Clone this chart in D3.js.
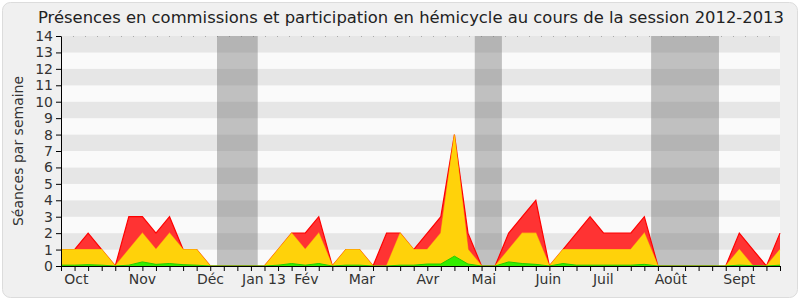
<!DOCTYPE html>
<html><head><meta charset="utf-8">
<script src="https://cdn.jsdelivr.net/npm/d3@7"></script>
<style>body{margin:0;background:#fff}svg{display:block;font-family:"DejaVu Sans",sans-serif}</style>
</head><body><svg id="c" width="800" height="300"></svg>
<script>
const title = "Présences en commissions et participation en hémicycle au cours de la session 2012-2013";
const yTitle = "Séances par semaine";
// weekly values (week index 0..53)
const redSeries =    [1,1,2,1,0,3,3,2,3,1,1,0, 0,0,0,0, 1,2,2,3,0,1,1,0, 2,2,1,2,3,8,2,0, 0,2,3,4,0, 1,2,3,2,2,2,3, 0,0,0,0,0,0, 2,1,0,2];
const yellowSeries = [1,1,1,1,0,1,2,1,2,1,1,0, 0,0,0,0, 1,2,1,2,0,1,1,0, 0,2,1,1,2,8,1,0, 0,1,2,2,0, 1,1,1,1,1,1,2, 0,0,0,0,0,0, 1,0,0,1];
const greenSeries =  [0.05,0.05,0.08,0.05,0,0.05,0.25,0.1,0.15,0.08,0.05,0, 0,0,0,0, 0.05,0.15,0.05,0.15,0,0.05,0.05,0, 0,0.05,0.05,0.12,0.12,0.6,0.12,0, 0,0.25,0.15,0.1,0, 0.15,0.05,0.05,0.05,0.05,0.05,0.1, 0,0,0,0,0,0, 0.05,0.02,0,0.05];
const monthLabels = ["Oct","Nov","Déc","Jan 13","Fév","Mar","Avr","Mai","Juin","Juil","Août","Sept"];
const monthWeeks =  [1.14,6.0,11.02,14.96,18.09,22.18,27.04,31.17,35.92,39.98,44.95,50.0];
const holidays = [[11.5,14.5],[30.5,32.5],[43.5,48.5]];
const yTicks = d3.range(0,15);

const svg = d3.select("#c");
const L=61,R=780,T=36,B=266;
const x = d3.scaleLinear().domain([0,53]).range([L,R]);
const y = d3.scaleLinear().domain([0,14]).range([B,T]);

svg.append("rect").attr("x",2.5).attr("y",2.5).attr("width",795).attr("height",295).attr("rx",8)
  .attr("fill","#f0f0f0").attr("stroke","#dcdcdc");

// stripes
svg.append("g").selectAll("rect").data(d3.range(0,14)).join("rect")
  .attr("x",L).attr("width",R-L).attr("y",d=>y(d+1)).attr("height",d=>y(d)-y(d+1))
  .attr("fill",d=>d%2===1?"#e6e6e6":"#fafafa");
// top dotted line
svg.append("line").attr("x1",L).attr("x2",R).attr("y1",T+0.5).attr("y2",T+0.5)
  .attr("stroke","#aaa").attr("stroke-dasharray","1,11");

// holidays
svg.append("g").selectAll("rect").data(holidays).join("rect")
  .attr("x",d=>x(d[0])).attr("width",d=>x(d[1])-x(d[0])).attr("y",T).attr("height",B-T)
  .attr("fill","rgb(105,105,105)").attr("fill-opacity",0.4);

const idx = d3.range(redSeries.length);
function area(vals){ return d3.area().x(i=>x(i)).y0(y(0)).y1(i=>y(vals[i]))(idx); }
function line(vals){ return d3.line().x(i=>x(i)).y(i=>y(vals[i]))(idx); }
svg.append("path").attr("d",area(redSeries)).attr("fill","#ff3333");
svg.append("path").attr("d",line(redSeries)).attr("fill","none").attr("stroke","#ff0000").attr("stroke-width",1.2);
svg.append("path").attr("d",area(yellowSeries)).attr("fill","#ffd20a");
svg.append("path").attr("d",line(yellowSeries)).attr("fill","none").attr("stroke","#ffe600").attr("stroke-opacity",0.55).attr("stroke-width",1.2);
svg.append("path").attr("d",area(greenSeries)).attr("fill","#33ee00");
svg.append("path").attr("d",line(greenSeries)).attr("fill","none").attr("stroke","#22cc00").attr("stroke-width",1);

// axes
const yAxis = d3.axisLeft(y).tickValues(yTicks).tickSize(5).tickSizeOuter(0).tickPadding(3);
const gy = svg.append("g").attr("transform",`translate(${L},0)`).call(yAxis);
gy.selectAll("text").attr("font-size",14).attr("fill","#333").attr("font-family","DejaVu Sans");
gy.select(".domain").attr("stroke","#000");
gy.selectAll(".tick line").attr("stroke","#000");

const xAxis = d3.axisBottom(x).tickValues(d3.range(0,54)).tickSize(5).tickSizeOuter(0).tickFormat("");
const gx = svg.append("g").attr("transform",`translate(0,${B})`).call(xAxis);
gx.select(".domain").attr("stroke","#000");
gx.selectAll(".tick line").attr("stroke","#000");

svg.append("g").selectAll("text").data(monthLabels).join("text")
  .attr("x",(d,i)=>x(monthWeeks[i])).attr("y",284).attr("text-anchor","middle")
  .attr("font-size",14).attr("fill","#333").text(d=>d);

svg.append("text").attr("transform","translate(23,151) rotate(-90)").attr("text-anchor","middle")
  .attr("font-size",14).attr("fill","#333").text(yTitle);
svg.append("text").attr("x",411).attr("y",23).attr("text-anchor","middle")
  .attr("font-size",16.4).attr("fill","#222").text(title);
</script></body></html>
